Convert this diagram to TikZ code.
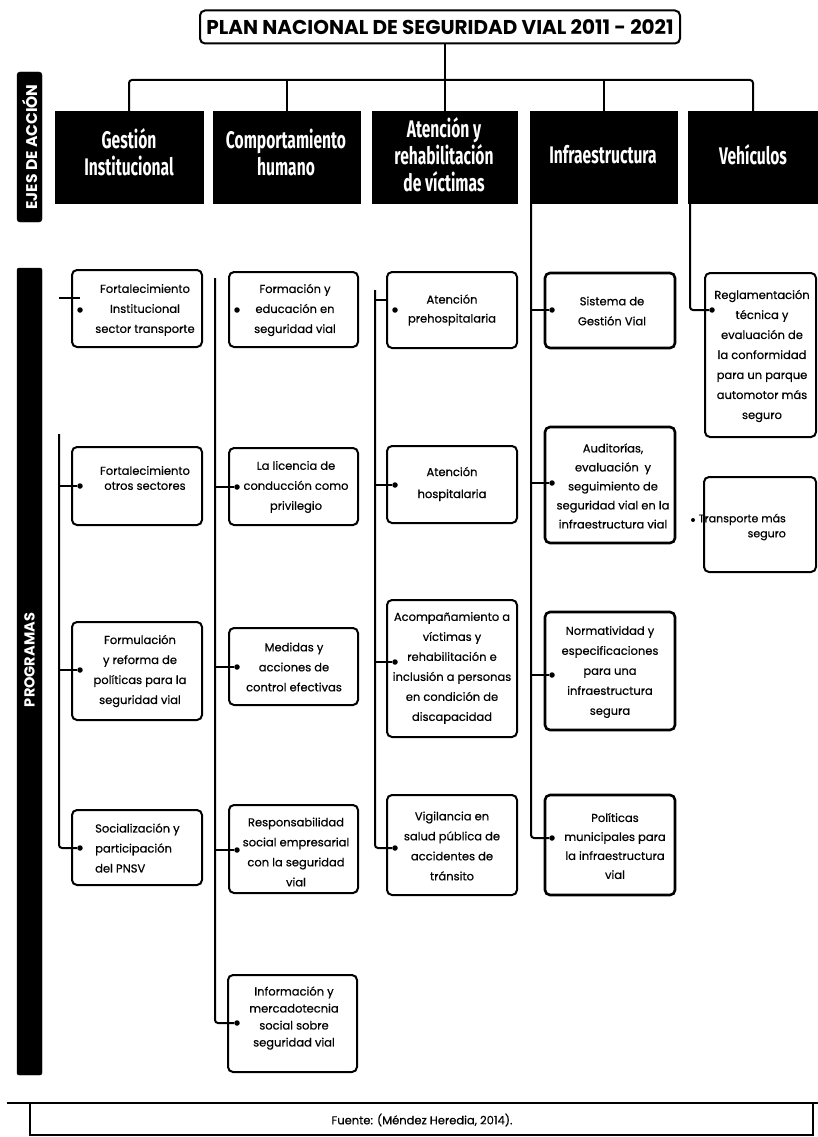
\documentclass[tikz,border=0pt]{standalone}
\usepackage{fontspec}
\setmainfont{Poppins}
\newfontfamily\bodyfont{Poppins}[FakeBold=0.5]
\newfontfamily\hdfont{Fira Sans}[FakeStretch=0.65]
\usetikzlibrary{fit}
\tikzset{
  pbox/.style={draw=black, line width=2pt, rounded corners=5pt, fill=white, inner sep=0pt},
  hbox/.style={fill=black, draw=black, inner sep=0pt},
  ptext/.style={align=center, font=\bodyfont\fontsize{11.5}{20}\selectfont, inner sep=0pt},
  htext/.style={align=center, text=white, font=\hdfont\bfseries\fontsize{24}{27}\selectfont, inner sep=0pt},
  conn/.style={line width=2pt, rounded corners=3pt},
  dotn/.style={circle, fill=black, inner sep=0pt, minimum size=5.5pt},
  sidelab/.style={text=white, font=\bfseries\fontsize{15.5}{17}\selectfont, rotate=90, inner sep=0pt},
}
\newcommand\mkbox[6]{% style, name, x1, y1, x2, y2
  \path (#3,#4) coordinate (#2-nw) (#5,#6) coordinate (#2-se);
  \node[#1, fit=(#2-nw)(#2-se)] (#2) {};}
\begin{document}
\begin{tikzpicture}[x=1pt,y=-1pt]
\useasboundingbox (0,0) rectangle (818,1137);
\fill[white] (0,0) rectangle (818,1137);

% title
\node[draw, line width=2pt, rounded corners=5pt, minimum width=480pt, minimum height=33pt, inner sep=0pt,
      font=\bfseries\fontsize{20}{22}\selectfont] (title) at (440,27) {PLAN NACIONAL DE SEGURIDAD VIAL 2011 - 2021};

% side labels
\mkbox{hbox, rounded corners=3pt}{ejes}{17}{72}{42}{222}
\node[sidelab] (ejesT) at (ejes.center) {EJES DE ACCIÓN};
\mkbox{hbox, rounded corners=2pt}{prog}{17}{268}{42}{1075}
\node[sidelab, font=\bfseries\fontsize{14.5}{16}\selectfont] (progT) at (29.5,660) {PROGRAMAS};

% headers
\mkbox{hbox}{hA}{55}{111}{203}{203}
\mkbox{hbox}{hB}{213}{111}{360}{203}
\mkbox{hbox}{hC}{372}{111}{517}{203}
\mkbox{hbox}{hD}{530}{111}{677}{203}
\mkbox{hbox}{hE}{688}{111}{818}{203}
\node[htext] (hAT) at (129,152) {Gestión\\Institucional};
\node[htext] (hBT) at (286,152) {Comportamiento\\humano};
\node[htext] (hCT) at (444,155) {Atención y\\rehabilitación\\de víctimas};
\node[htext] (hDT) at (603,155) {Infraestructura};
\node[htext] (hET) at (753,155) {Vehículos};

% top connectors
\coordinate (bar) at (0,80);
\draw[conn] (hA.north) |- (bar -| hE.north) -- (hE.north);
\draw[conn] (hB.north) -- (hB.north |- bar);
\draw[conn] (hD.north) -- (hD.north |- bar);
\draw[conn] (hC.north |- title.south) -- (hC.north);

% ---------- column 1
\mkbox{pbox}{a1}{72}{270}{202}{347}
\mkbox{pbox}{a2}{72}{447}{202}{525}
\mkbox{pbox}{a3}{72}{622}{202}{720}
\mkbox{pbox}{a4}{72}{810}{202}{885}
\node[ptext] (a1T) at (145,310) {Fortalecimiento\\Institucional\\sector transporte};
\node[ptext, font=\bodyfont\fontsize{11.5}{15}\selectfont] (a2T) at (145,478) {Fortalecimiento\\otros sectores};
\node[ptext] (a3T) at (140,671) {Formulación\\y reforma de\\políticas para la\\seguridad vial};
\node[ptext, align=left, anchor=west] (a4T) at (95,848) {Socialización y\\participación\\del PNSV};
\node[dotn] (a1d) at (80,310) {};
\node[dotn] (a2d) at (80,486) {};
\node[dotn] (a3d) at (80,670) {};
\node[dotn] (a4d) at (80,848) {};
\coordinate (s1) at (59,298);
\draw[conn] (s1) -- (s1 -| a1d);
\coordinate (v1t) at (59,434);
\draw[conn] (v1t) |- (a4d);
\draw[conn] (v1t |- a2d) -- (a2d);
\draw[conn] (v1t |- a3d) -- (a3d);

% ---------- column 2
\mkbox{pbox}{b1}{229}{272}{358}{347}
\mkbox{pbox}{b2}{229}{448}{358}{525}
\mkbox{pbox}{b3}{229}{628}{358}{705}
\mkbox{pbox}{b4}{229}{805}{358}{893}
\mkbox{pbox}{b5}{228}{975}{357}{1072}
\node[ptext] (b1T) at (295,310) {Formación y\\educación en\\seguridad vial};
\node[ptext] (b2T) at (296,487) {La licencia de\\conducción como\\privilegio};
\node[ptext] (b3T) at (294,667) {Medidas y\\acciones de\\control efectivas};
\node[ptext] (b4T) at (296,852) {Responsabilidad\\social empresarial\\con la seguridad\\vial};
\node[ptext, font=\bodyfont\fontsize{11.5}{17}\selectfont] (b5T) at (294,1018) {Información y\\mercadotecnia\\social sobre\\seguridad vial};
\node[dotn] (b1d) at (237,310) {};
\node[dotn] (b2d) at (237,487) {};
\node[dotn] (b3d) at (237,667) {};
\node[dotn] (b4d) at (237,850) {};
\node[dotn] (b5d) at (237,1023) {};
\coordinate (v2t) at (215,278);
\draw[conn] (v2t) |- (b5d);
\draw[conn] (v2t |- b2d) -- (b2d);
\draw[conn] (v2t |- b3d) -- (b3d);
\draw[conn] (v2t |- b4d) -- (b4d);

% ---------- column 3
\mkbox{pbox}{c1}{387}{272}{517}{348}
\mkbox{pbox}{c2}{387}{446}{517}{523}
\mkbox{pbox}{c3}{387}{600}{517}{737}
\mkbox{pbox}{c4}{387}{795}{517}{895}
\node[ptext, font=\bodyfont\fontsize{11.5}{19}\selectfont] (c1T) at (452,310) {Atención\\prehospitalaria};
\node[ptext, font=\bodyfont\fontsize{11.5}{22}\selectfont] (c2T) at (452,484) {Atención\\hospitalaria};
\node[ptext] (c3T) at (452,668) {Acompañamiento a\\víctimas y\\rehabilitación e\\inclusión a personas\\en condición de\\discapacidad};
\node[ptext] (c4T) at (452,846) {Vigilancia en\\salud pública de\\accidentes de\\tránsito};
\node[dotn] (c1d) at (395,310) {};
\node[dotn] (c2d) at (395,485) {};
\node[dotn] (c3d) at (395,662) {};
\node[dotn] (c4d) at (395,848) {};
\coordinate (v3t) at (375,290);
\draw[conn] (v3t) |- (c4d);
\draw[conn] (v3t |- 0,300) -- (c1.west |- 0,300);
\draw[conn] (v3t |- c2d) -- (c2d);
\draw[conn] (v3t |- c3d) -- (c3d);

% ---------- column 4
\mkbox{pbox, line width=2.6pt}{d1}{545}{273}{675}{348}
\mkbox{pbox, line width=2.6pt}{d2}{545}{427}{675}{543}
\mkbox{pbox, line width=2.6pt}{d3}{545}{612}{675}{730}
\mkbox{pbox, line width=2.6pt}{d4}{545}{795}{675}{895}
\node[ptext] (d1T) at (612,311) {Sistema de\\Gestión Vial};
\node[ptext, font=\bodyfont\fontsize{11.5}{19}\selectfont] (d2T) at (613,486) {Auditorías,\\evaluación\enspace y\\seguimiento de\\seguridad vial en la\\infraestructura vial};
\node[ptext] (d3T) at (610,672) {Normatividad y\\especificaciones\\para una\\infraestructura\\segura};
\node[ptext, font=\bodyfont\fontsize{11.5}{19}\selectfont] (d4T) at (615,846) {Políticas\\municipales para\\la infraestructura\\vial};
\node[dotn] (d1d) at (552,310) {};
\node[dotn] (d2d) at (552,483) {};
\node[dotn] (d3d) at (552,675) {};
\node[dotn] (d4d) at (552,838) {};
\coordinate (v4t) at (531,203);
\draw[conn] (v4t) |- (d4d);
\draw[conn] (v4t |- d1d) -- (d1d);
\draw[conn] (v4t |- d2d) -- (d2d);
\draw[conn] (v4t |- d3d) -- (d3d);

% ---------- column 5
\mkbox{pbox}{e1}{705}{273}{816}{437}
\mkbox{pbox}{e2}{704}{477}{816}{572}
\node[ptext] (e1T) at (762,356) {Reglamentación\\técnica y\\evaluación de\\la conformidad\\para un parque\\automotor más\\seguro};
\node[ptext, align=right, anchor=east, font=\bodyfont\fontsize{11}{15}\selectfont] (e2T) at (786,527) {Transporte más\\seguro};
\node[dotn, minimum size=4pt] (e2d) at (693,520) {};
\node[dotn] (e1d) at (712,310) {};
\coordinate (v5t) at (690,203);
\draw[conn] (v5t) |- (e1d);

% ---------- footer
\coordinate (fl) at (7,1103);
\coordinate (fr) at (818,1103);
\draw[line width=2pt] (fl) -- (fr);
\draw[line width=2pt] (30,1103) -- (30,1135) -- (813,1135) -- (813,1103);
\node[font=\bodyfont\fontsize{11.5}{12}\selectfont, inner sep=0pt] (src) at (422,1120) {Fuente: (Méndez Heredia, 2014).};
\end{tikzpicture}
\end{document}
